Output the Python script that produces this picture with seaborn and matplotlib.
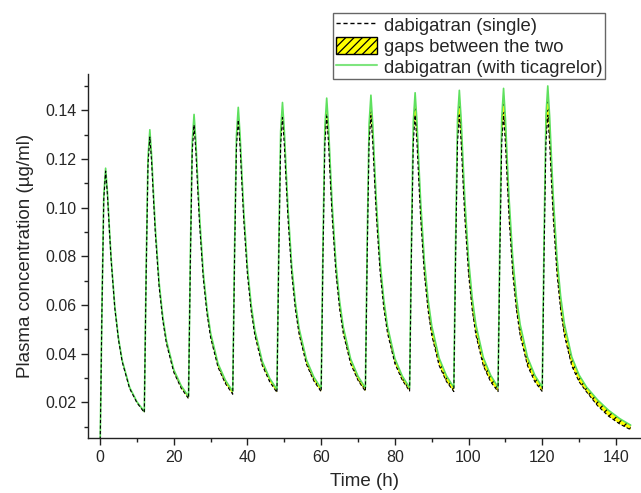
import matplotlib
matplotlib.use("Agg")
import matplotlib.pyplot as plt
import numpy as np
import pandas as pd
import seaborn as sns
from matplotlib.lines import Line2D
from matplotlib.patches import Patch
from matplotlib.ticker import MultipleLocator, FormatStrFormatter

# ---- data ----
time_h = [
    0, 0.5, 1, 1.5, 2, 2.5, 3, 4, 5, 6, 8, 10,
    12, 12.5, 13, 13.5, 14, 14.5, 15, 16, 17, 18, 20, 22,
    24, 24.5, 25, 25.5, 26, 26.5, 27, 28, 29, 30, 32, 34,
    36, 36.5, 37, 37.5, 38, 38.5, 39, 40, 41, 42, 44, 46,
    48, 48.5, 49, 49.5, 50, 50.5, 51, 52, 53, 54, 56, 58,
    60, 60.5, 61, 61.5, 62, 62.5, 63, 64, 65, 66, 68, 70,
    72, 72.5, 73, 73.5, 74, 74.5, 75, 76, 77, 78, 80, 82,
    84, 84.5, 85, 85.5, 86, 86.5, 87, 88, 89, 90, 92, 94,
    96, 96.5, 97, 97.5, 98, 98.5, 99, 100, 101, 102, 104, 106,
    108, 108.5, 109, 109.5, 110, 110.5, 111, 112, 113, 114, 116, 118,
    120, 120.5, 121, 121.5, 122, 122.5, 123, 124, 125, 126, 128, 130,
    132, 135, 138, 141, 144,
]

conc_single = [
    0.0000, 0.0575, 0.1035, 0.1150, 0.1051, 0.0912, 0.0783, 0.0585, 0.0456, 0.0366, 0.0257, 0.0198,
    0.0158, 0.0724, 0.1177, 0.1290, 0.1183, 0.1032, 0.0892, 0.0677, 0.0538, 0.0441, 0.0323, 0.0258,
    0.0215, 0.0778, 0.1228, 0.1340, 0.1229, 0.1074, 0.0930, 0.0709, 0.0565, 0.0465, 0.0344, 0.0277,
    0.0233, 0.0797, 0.1247, 0.1360, 0.1248, 0.1091, 0.0946, 0.0722, 0.0576, 0.0475, 0.0352, 0.0285,
    0.0240, 0.0805, 0.1257, 0.1370, 0.1257, 0.1100, 0.0953, 0.0728, 0.0581, 0.0480, 0.0356, 0.0288,
    0.0243, 0.0809, 0.1262, 0.1375, 0.1262, 0.1104, 0.0957, 0.0731, 0.0584, 0.0482, 0.0358, 0.0290,
    0.0245, 0.0812, 0.1265, 0.1378, 0.1265, 0.1106, 0.0959, 0.0733, 0.0586, 0.0484, 0.0359, 0.0291,
    0.0246, 0.0813, 0.1267, 0.1380, 0.1265, 0.1104, 0.0955, 0.0727, 0.0579, 0.0476, 0.0351, 0.0285,
    0.0244, 0.0812, 0.1266, 0.1380, 0.1264, 0.1103, 0.0954, 0.0726, 0.0578, 0.0475, 0.0350, 0.0284,
    0.0244, 0.0812, 0.1266, 0.1380, 0.1264, 0.1103, 0.0954, 0.0726, 0.0578, 0.0475, 0.0350, 0.0284,
    0.0244, 0.0812, 0.1266, 0.1380, 0.1264, 0.1103, 0.0954, 0.0726, 0.0578, 0.0475, 0.0350, 0.0284,
    0.0243, 0.0186, 0.0143, 0.0111, 0.0087,
]

conc_ticagrelor = [
    0.0000, 0.0581, 0.1046, 0.1162, 0.1062, 0.0922, 0.0792, 0.0592, 0.0462, 0.0372, 0.0262, 0.0202,
    0.0162, 0.0741, 0.1204, 0.1320, 0.1210, 0.1057, 0.0914, 0.0695, 0.0553, 0.0454, 0.0334, 0.0268,
    0.0224, 0.0804, 0.1267, 0.1383, 0.1269, 0.1110, 0.0962, 0.0734, 0.0586, 0.0484, 0.0359, 0.0291,
    0.0245, 0.0829, 0.1295, 0.1412, 0.1296, 0.1134, 0.0983, 0.0751, 0.0601, 0.0496, 0.0369, 0.0299,
    0.0253, 0.0843, 0.1314, 0.1432, 0.1315, 0.1150, 0.0997, 0.0762, 0.0610, 0.0504, 0.0375, 0.0304,
    0.0257, 0.0854, 0.1331, 0.1450, 0.1331, 0.1164, 0.1009, 0.0771, 0.0616, 0.0509, 0.0378, 0.0307,
    0.0259, 0.0861, 0.1342, 0.1462, 0.1342, 0.1174, 0.1017, 0.0777, 0.0621, 0.0512, 0.0380, 0.0308,
    0.0260, 0.0866, 0.1351, 0.1472, 0.1351, 0.1181, 0.1024, 0.0782, 0.0624, 0.0515, 0.0382, 0.0309,
    0.0261, 0.0872, 0.1360, 0.1482, 0.1360, 0.1189, 0.1031, 0.0787, 0.0628, 0.0518, 0.0384, 0.0311,
    0.0262, 0.0876, 0.1367, 0.1490, 0.1367, 0.1195, 0.1036, 0.0790, 0.0630, 0.0520, 0.0385, 0.0311,
    0.0262, 0.0881, 0.1376, 0.1500, 0.1376, 0.1203, 0.1042, 0.0795, 0.0634, 0.0523, 0.0387, 0.0312,
    0.0263, 0.0210, 0.0167, 0.0133, 0.0106,
]

legend_labels = ["dabigatran (single)", "gaps between the two", "dabigatran (with ticagrelor)"]
x_label = "Time (h)"
y_label = "Plasma concentration (\u00b5g/ml)"

# ---- style ----
sns.set_style("ticks")
plt.rcParams["font.family"] = ["Liberation Sans", "DejaVu Sans"]
plt.rcParams["hatch.linewidth"] = 0.9
plt.rcParams["hatch.color"] = "black"

W, H = 641, 493
fig = plt.figure(figsize=(W / 100, H / 100), dpi=100)
left, bottom_px, top_px = 88.3, 438.3, 74.0
ax = fig.add_axes([left / W, 1 - bottom_px / H, (W - left) / W, (bottom_px - top_px) / H])

df = pd.DataFrame({"t": time_h, "single": conc_single, "tica": conc_ticagrelor})

ax.fill_between(df["t"], df["single"], df["tica"], facecolor="#ffff00",
                edgecolor="black", hatch="////", linewidth=0, zorder=1)
sns.lineplot(data=df, x="t", y="tica", ax=ax, sort=False, estimator=None,
             color="#5ee05e", linewidth=1.2, zorder=2)
sns.lineplot(data=df, x="t", y="single", ax=ax, sort=False, estimator=None,
             color="black", linewidth=0.8, linestyle=(0, (3, 2)), zorder=3)

ax.set_xlim(-3.2, 146.8)
ax.set_ylim(0.0052, 0.1549)
ax.xaxis.set_major_locator(MultipleLocator(20))
ax.xaxis.set_minor_locator(MultipleLocator(10))
ax.yaxis.set_major_locator(MultipleLocator(0.02))
ax.yaxis.set_minor_locator(MultipleLocator(0.01))
ax.yaxis.set_major_formatter(FormatStrFormatter("%.2f"))

sns.despine(ax=ax)
for s in ("left", "bottom"):
    ax.spines[s].set_color("#222222")
    ax.spines[s].set_linewidth(1.0)
ax.tick_params(which="major", direction="out", length=5, width=1, color="#222222",
               labelsize=11.5, pad=3.5)
ax.tick_params(which="minor", direction="out", length=2.8, width=1, color="#222222")

ax.set_xlabel(x_label, fontsize=13.5, labelpad=6)
ax.set_ylabel(y_label, fontsize=13.5, labelpad=8)

handles = [
    Line2D([], [], color="black", linewidth=1.0, linestyle=(0, (3, 2))),
    Patch(facecolor="#ffff00", edgecolor="black", hatch="////", linewidth=1.0),
    Line2D([], [], color="#7fe57f", linewidth=1.5),
]
leg = fig.legend(handles, legend_labels, loc="upper left",
                 bbox_to_anchor=(333.3 / W, 1 - 13.3 / H), bbox_transform=fig.transFigure,
                 borderaxespad=0, fontsize=13.3, frameon=True, fancybox=False,
                 handlelength=2.25, handleheight=1.1, handletextpad=0.36,
                 labelspacing=0.1, borderpad=0.12)
leg.get_frame().set_edgecolor("#666666")
leg.get_frame().set_linewidth(1.0)
leg.get_frame().set_facecolor("white")
leg.get_frame().set_alpha(1)

fig.savefig("out.png", dpi=100)
